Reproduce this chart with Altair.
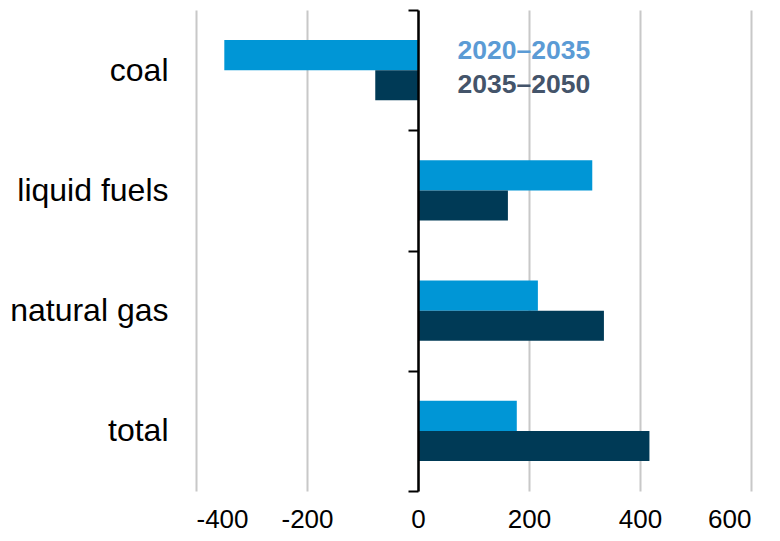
import altair as alt
import pandas as pd

categories = ["coal", "liquid fuels", "natural gas", "total"]
periods = ["2020–2035", "2035–2050"]
values_2020_2035 = [-349, 314, 216, 178]
values_2035_2050 = [-77, 162, 335, 417]
x_ticks = [-400, -200, 0, 200, 400, 600]
bar_colors = ["#0096D6", "#003A56"]
legend_text_colors = ["#5B9BD5", "#44546A"]

rows = []
for c, a, b in zip(categories, values_2020_2035, values_2035_2050):
    rows.append({"category": c, "period": periods[0], "value": a})
    rows.append({"category": c, "period": periods[1], "value": b})
df = pd.DataFrame(rows)

FONT = "Liberation Sans"

label_color_expr = (
    f"datum.label == '{periods[0]}' ? '{legend_text_colors[0]}' : '{legend_text_colors[1]}'"
)

chart = (
    alt.Chart(df)
    .mark_bar()
    .encode(
        x=alt.X(
            "value:Q",
            scale=alt.Scale(domain=[-400, 600], nice=False),
            axis=alt.Axis(
                values=x_ticks,
                title=None,
                domain=False,
                ticks=False,
                grid=True,
                gridColor="#C8C8C8",
                gridWidth=2,
                labelFontSize=26,
                labelFont=FONT,
                labelColor="black",
                labelPadding=15,
                labelExpr="datum.value < 0 ? '-' + abs(datum.value) : '' + datum.value",
            ),
        ),
        y=alt.Y(
            "category:N",
            sort=categories,
            scale=alt.Scale(paddingInner=0, paddingOuter=0),
            axis=alt.Axis(
                title=None,
                orient="left",
                offset=-222,
                domain=True,
                domainColor="black",
                domainWidth=2.5,
                ticks=True,
                tickColor="black",
                tickWidth=2,
                tickSize=10,
                tickBand="extent",
                labelPadding=240,
                labelFontSize=32,
                labelFont=FONT,
                labelColor="black",
                grid=False,
                zindex=1,
            ),
        ),
        yOffset=alt.YOffset(
            "period:N",
            sort=periods,
            scale=alt.Scale(paddingInner=0, paddingOuter=1),
        ),
        color=alt.Color(
            "period:N",
            scale=alt.Scale(domain=periods, range=bar_colors),
            legend=alt.Legend(
                title=None,
                orient="none",
                legendX=235,
                legendY=28,
                symbolSize=0,
                symbolOpacity=0,
                symbolStrokeWidth=0,
                labelOffset=0,
                labelFontSize=26.5,
                labelFont=FONT,
                labelFontWeight="bold",
                labelColor=alt.ExprRef(expr=label_color_expr),
                rowPadding=7,
            ),
        ),
    )
    .properties(
        width=555,
        height=481,
        autosize=alt.AutoSizeParams(type="none"),
        padding={"left": 188, "top": 2, "right": 21, "bottom": 42},
        background="white",
    )
    .configure_view(stroke=None)
)

chart.save("out.html", embed_options={"renderer": "svg", "actions": False})
